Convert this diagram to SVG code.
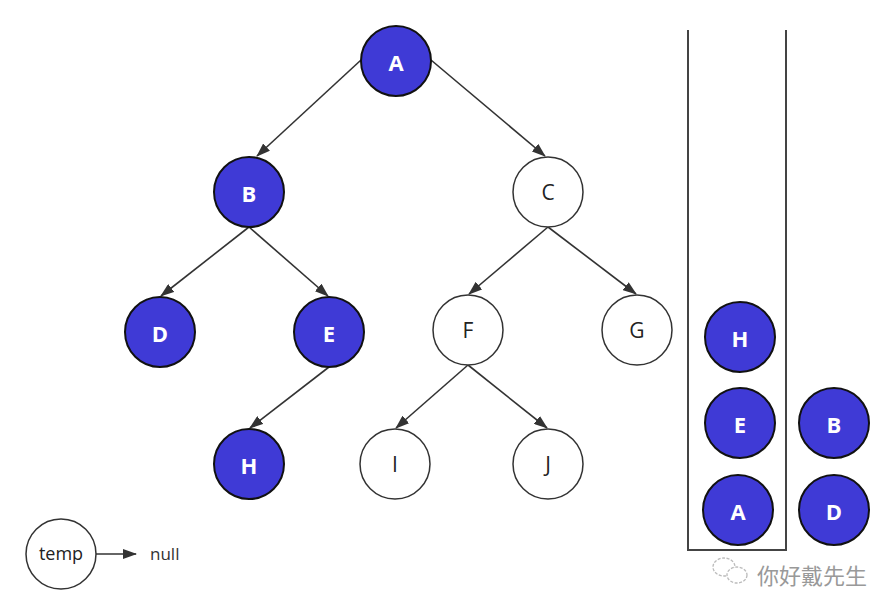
<svg xmlns="http://www.w3.org/2000/svg" width="894" height="613" viewBox="0 0 894 613">
<defs>
<marker id="arr" viewBox="0 0 14 10" refX="13" refY="5" markerWidth="14" markerHeight="10" markerUnits="userSpaceOnUse" orient="auto">
<path d="M0,0 L14,5 L0,10 Z" fill="#333"/>
</marker>
<style>
.f{fill:#3f3ad6;stroke:#111;stroke-width:2}
.e{fill:#fff;stroke:#333;stroke-width:1.5}
.tf{fill:#fff;font-family:"Open Sans","DejaVu Sans",sans-serif;font-weight:bold;font-size:22px;text-anchor:middle;dominant-baseline:central}
.te{fill:#222;font-family:"Open Sans","DejaVu Sans",sans-serif;font-size:21px;text-anchor:middle;dominant-baseline:central}
.c{stroke:#333;stroke-width:1.6;fill:none;marker-end:url(#arr)}
</style>
</defs>
<g id="connectors">
<line class="c" x1="361" y1="60" x2="257" y2="156"/>
<line class="c" x1="431" y1="60" x2="545" y2="156"/>
<line class="c" x1="249" y1="227" x2="161" y2="296"/>
<line class="c" x1="249" y1="227" x2="328" y2="296"/>
<line class="c" x1="548" y1="227" x2="469" y2="294"/>
<line class="c" x1="548" y1="227" x2="636" y2="294"/>
<line class="c" x1="329" y1="367" x2="250" y2="428"/>
<line class="c" x1="468" y1="365" x2="396" y2="428"/>
<line class="c" x1="468" y1="365" x2="547" y2="428"/>
<line class="c" x1="96" y1="554" x2="136" y2="554"/>
</g>
<g id="nA"><circle class="f" cx="396" cy="61" r="35"/><text class="tf" x="396" y="62">A</text></g>
<g id="nB"><circle class="f" cx="249" cy="192" r="35"/><text class="tf" x="249" y="193">B</text></g>
<g id="nC"><circle class="e" cx="548" cy="192" r="35"/><text class="te" x="548" y="192">C</text></g>
<g id="nD"><circle class="f" cx="160" cy="332" r="35"/><text class="tf" x="160" y="333">D</text></g>
<g id="nE"><circle class="f" cx="329" cy="332" r="35"/><text class="tf" x="329" y="333">E</text></g>
<g id="nF"><circle class="e" cx="468" cy="330" r="35"/><text class="te" x="468" y="330">F</text></g>
<g id="nG"><circle class="e" cx="637" cy="330" r="35"/><text class="te" x="637" y="330">G</text></g>
<g id="nH"><circle class="f" cx="249" cy="464" r="35"/><text class="tf" x="249" y="465">H</text></g>
<g id="nI"><circle class="e" cx="395" cy="464" r="35"/><text class="te" x="395" y="464">I</text></g>
<g id="nJ"><circle class="e" cx="548" cy="464" r="35"/><text class="te" x="548" y="464">J</text></g>
<g id="temp"><circle class="e" cx="61" cy="554" r="35"/><text class="te" x="61" y="553" style="font-size:18px">temp</text></g>
<g id="null"><text x="150" y="553" style="fill:#333;font-family:'Open Sans','DejaVu Sans',sans-serif;font-size:17px;dominant-baseline:central">null</text></g>
<g id="stack">
<path d="M688,30 V550 H786 V30" fill="none" stroke="#444" stroke-width="2"/>
</g>
<g id="sH"><circle class="f" cx="740" cy="337" r="35"/><text class="tf" x="740" y="338">H</text></g>
<g id="sE"><circle class="f" cx="740" cy="423" r="35"/><text class="tf" x="740" y="424">E</text></g>
<g id="sA"><circle class="f" cx="738" cy="510" r="35"/><text class="tf" x="738" y="511">A</text></g>
<g id="oB"><circle class="f" cx="834" cy="423" r="35"/><text class="tf" x="834" y="424">B</text></g>
<g id="oD"><circle class="f" cx="834" cy="510" r="35"/><text class="tf" x="834" y="511">D</text></g>
<g id="watermark">
<ellipse cx="724" cy="567" rx="11" ry="9" fill="none" stroke="#bbb" stroke-width="1.3" stroke-dasharray="3 1.5"/>
<ellipse cx="737" cy="575" rx="10" ry="8" fill="#fff" stroke="#bbb" stroke-width="1.3" stroke-dasharray="3 1.5"/>
<text x="757" y="574" style="fill:#999;font-family:'Noto Sans CJK SC',sans-serif;font-size:22px;dominant-baseline:central">你好戴先生</text>
</g>
</svg>
